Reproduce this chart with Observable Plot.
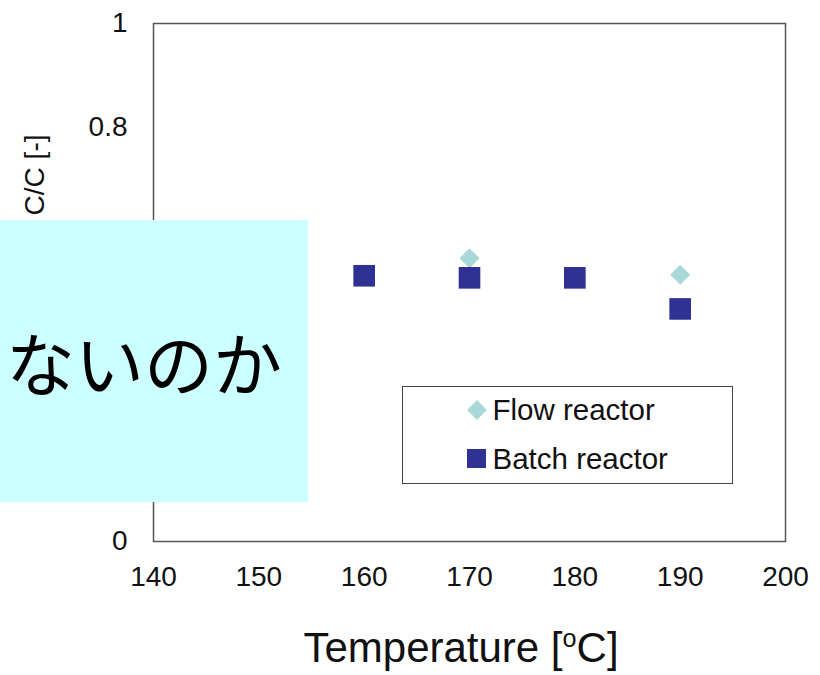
<!DOCTYPE html>
<html>
<head>
<meta charset="utf-8">
<script src="https://cdn.jsdelivr.net/npm/d3@7"></script>
<script src="https://cdn.jsdelivr.net/npm/@observablehq/plot@0.6"></script>
<style>
  body { margin: 0; background: #fff; }
  #wrap { position: relative; width: 820px; height: 675px; overflow: hidden;
          font-family: "Liberation Sans", Arial, sans-serif; color: #111; }
  #wrap svg { position: absolute; left: 0; top: 0; }
  .legend { position: absolute; left: 402px; top: 386px; width: 329px; height: 96px;
            border: 1.5px solid #444; background: #fff; }
  .legrow { position: absolute; font-size: 29.5px; line-height: 29.5px; white-space: nowrap; }
  .sym { position: absolute; }
  .xtitle { position: absolute; left: 137px; width: 648px; top: 627px; text-align: center;
            font-size: 42px; line-height: 42px; white-space: nowrap; }
  .xtitle sup { font-size: 0.6em; vertical-align: 0.6em; line-height: 0; }
  .overlay { position: absolute; left: 0; top: 220px; width: 308px; height: 282px;
             background: #ccffff; overflow: hidden; }
  .overlay div { position: absolute; right: 26px; top: 0; height: 282px; line-height: 282px;
                 font-family: "Noto Sans CJK JP", sans-serif; font-size: 69px; color: #000;
                 white-space: nowrap; }
</style>
</head>
<body>
<div id="wrap"></div>
<script>
// ---- data ----
const batchTemperatures = [160, 170, 180, 190];
const batchValues = [0.513, 0.509, 0.509, 0.449];
const flowTemperatures = [170, 190];
const flowValues = [0.547, 0.515];
const xTicks = [140, 150, 160, 170, 180, 190, 200];
const yTicks = [0, 0.6, 0.8, 1];          // 0.2 and 0.4 are hidden behind the overlay box
const yTickLabels = ["0", "0.6", "0.8", "1"];
const seriesNames = ["Flow reactor", "Batch reactor"];
const seriesColors = ["#a8d8d8", "#2f3293"];
const yTitle = "C/C [-]";
const xTitleMain = "Temperature [";
const xTitleSup = "o";
const xTitleEnd = "C]";
const overlayText = "ないのか";

const flow = flowTemperatures.map((t, i) => ({t, v: flowValues[i]}));
const batch = batchTemperatures.map((t, i) => ({t, v: batchValues[i]}));

const plot = Plot.plot({
  width: 820,
  height: 675,
  marginLeft: 153,
  marginRight: 35,
  marginTop: 23,
  marginBottom: 134,
  style: { fontFamily: '"Liberation Sans", Arial, sans-serif', fontSize: "28px", color: "#111", background: "transparent" },
  x: { domain: [140, 200], ticks: xTicks, tickSize: 0, tickPadding: 25, label: null, tickFormat: d => String(d) },
  y: { domain: [0, 1], ticks: yTicks, tickSize: 0, tickPadding: 26, label: null,
       tickFormat: d => yTickLabels[yTicks.indexOf(d)] },
  marks: [
    Plot.frame({ stroke: "#555", strokeWidth: 1.5 }),
    Plot.dot(flow, { x: "t", y: "v", symbol: "diamond2", r: 9, fill: seriesColors[0], stroke: "none" }),
    Plot.dot(batch, { x: "t", y: "v", symbol: "square", r: 12.2, fill: seriesColors[1], stroke: "none" }),
    Plot.text([yTitle], { text: d => d, frameAnchor: "top-left", dx: -118, dy: 111, rotate: -90,
                          textAnchor: "end", lineAnchor: "middle", fontSize: 28, fill: "#111" })
  ]
});

const wrap = document.getElementById("wrap");
wrap.appendChild(plot);

// legend
const legend = document.createElement("div");
legend.className = "legend";
wrap.appendChild(legend);
const rowBaselines = [420, 469];
const symCenters = [410, 459];
seriesNames.forEach((name, i) => {
  const sym = document.createElement("div");
  sym.className = "sym";
  if (i === 0) {
    Object.assign(sym.style, { width: "14px", height: "14px", background: seriesColors[i],
      left: (477 - 402 - 7 - 1.5) + "px", top: (symCenters[i] - 386 - 7 - 1.5) + "px", transform: "rotate(45deg)" });
  } else {
    Object.assign(sym.style, { width: "19px", height: "19px", background: seriesColors[i],
      left: (477 - 402 - 9.5 - 1.5) + "px", top: (symCenters[i] - 386 - 9.5 - 1.5) + "px" });
  }
  legend.appendChild(sym);
  const row = document.createElement("div");
  row.className = "legrow";
  row.textContent = name;
  row.style.left = (493 - 402 - 1.5) + "px";
  row.style.top = (rowBaselines[i] - 25 - 386 - 1.5) + "px";
  legend.appendChild(row);
});

// x title
const xt = document.createElement("div");
xt.className = "xtitle";
xt.innerHTML = xTitleMain + "<sup>" + xTitleSup + "</sup>" + xTitleEnd;
wrap.appendChild(xt);

// overlay box
const ov = document.createElement("div");
ov.className = "overlay";
const ovt = document.createElement("div");
ovt.textContent = overlayText;
ov.appendChild(ovt);
wrap.appendChild(ov);
</script>
</body>
</html>
